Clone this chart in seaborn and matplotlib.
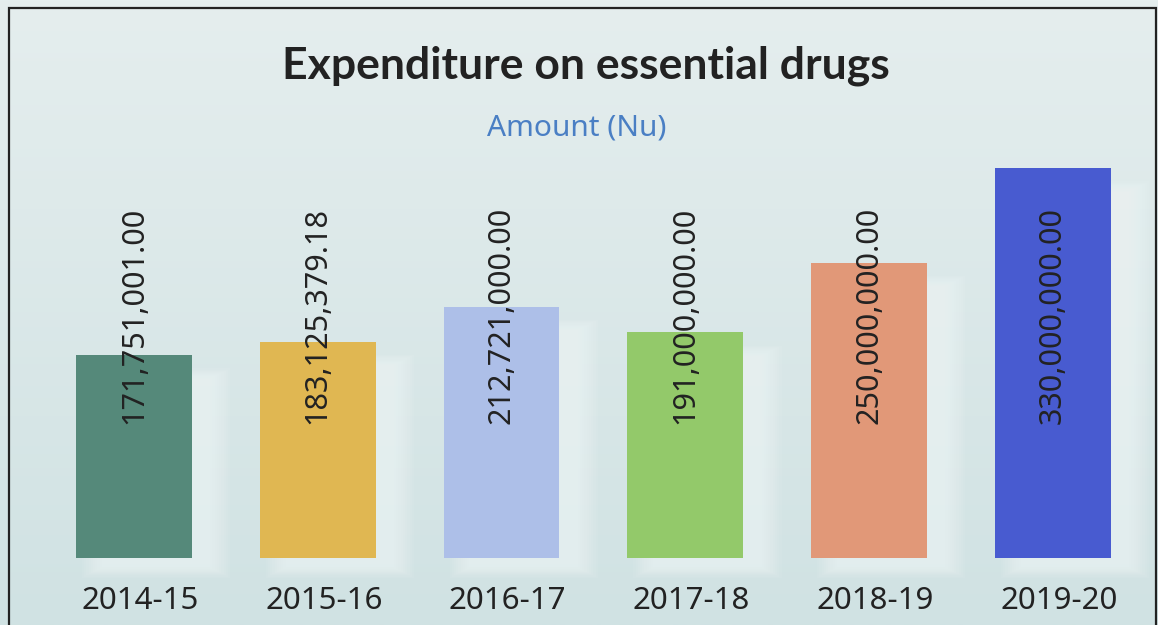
""" Expenditure on essential drugs, bar chart with value labels """

import numpy as np
import pandas as pd
import matplotlib
matplotlib.use("Agg")
import matplotlib.pyplot as plt
import matplotlib.transforms as mtrans
from matplotlib.patches import Rectangle
import seaborn as sns

# data
years = ["2014-15", "2015-16", "2016-17", "2017-18", "2018-19", "2019-20"]
amounts = [171751001.00, 183125379.18, 212721000.00, 191000000.00, 250000000.00, 330000000.00]
bar_colors = ["#55897a", "#e0b752", "#adbfe8", "#93c96a", "#e19878", "#485bd0"]

title = "Expenditure on essential drugs"
subtitle = "Amount (Nu)"

df = pd.DataFrame({"year": years, "amount": amounts})

sns.set_theme(style="white")
plt.rcParams["font.family"] = ["Noto Sans", "DejaVu Sans"]

fig = plt.figure(figsize=(11.58, 6.25), dpi=100)

# background gradient
bg = fig.add_axes([0, 0, 1, 1], zorder=-10)
grad = np.linspace(0, 1, 256).reshape(-1, 1)
top_c = np.array([229, 238, 238]) / 255
bot_c = np.array([208, 226, 227]) / 255
img = top_c[None, None, :] * (1 - grad[:, :, None]) + bot_c[None, None, :] * grad[:, :, None]
bg.imshow(img, aspect="auto", extent=[0, 1, 0, 1])
bg.set_axis_off()

# frame around the chart
fig.patches.append(Rectangle((9 / 1158, -0.05), 1147 / 1158, 1.05 - 8 / 625,
                             transform=fig.transFigure, fill=False,
                             edgecolor="#222222", linewidth=1.6, zorder=5))

ax = fig.add_axes([0.03636, 0.1072, 0.9523, 0.7563])
ax.set_facecolor("none")

bar_w = 0.63
# soft white glow behind each bar (shifted right and down)
for i, v in enumerate(amounts):
    for k in range(10):
        grow = k * 0.012
        ax.add_patch(Rectangle((i - bar_w / 2 + 0.14 - grow, -8e6 - grow * 80e6),
                               bar_w + 2 * grow - 0.04, v - 12e6 + 2 * grow * 80e6,
                               facecolor="white", edgecolor="none",
                               alpha=0.06, zorder=0, clip_on=False))

sns.barplot(data=df, x="year", y="amount", hue="year", palette=bar_colors,
            width=bar_w, legend=False, ax=ax, zorder=2, saturation=1,
            edgecolor="none", linewidth=0)

ax.set_ylim(0, 400e6)
ax.set_xlim(-0.5, 5.5)
for s in ax.spines.values():
    s.set_visible(False)
ax.set_yticks([])
ax.set_xlabel("")
ax.set_ylabel("")
ax.tick_params(axis="x", length=0, pad=20, labelsize=22.5, colors="#222222")
# year labels sit a little right of the bar centres
shift = mtrans.ScaledTranslation(6 / 100, 0, fig.dpi_scale_trans)
for lab in ax.get_xticklabels():
    lab.set_transform(lab.get_transform() + shift)

# value labels, rotated, at a fixed height
for i, v in enumerate(amounts):
    ax.text(i, 205e6, f"{v:,.2f}", rotation=90, ha="center", va="center",
            fontsize=22, color="#222222", zorder=4)

fig.text(0.506, 0.894, title, ha="center", va="center", fontsize=32,
         fontweight="bold", color="#222222", family=["Lato", "DejaVu Sans"])
fig.text(0.498, 0.795, subtitle, ha="center", va="center", fontsize=21.5,
         color="#4a7fc4")

fig.savefig("out.png", dpi=100)
